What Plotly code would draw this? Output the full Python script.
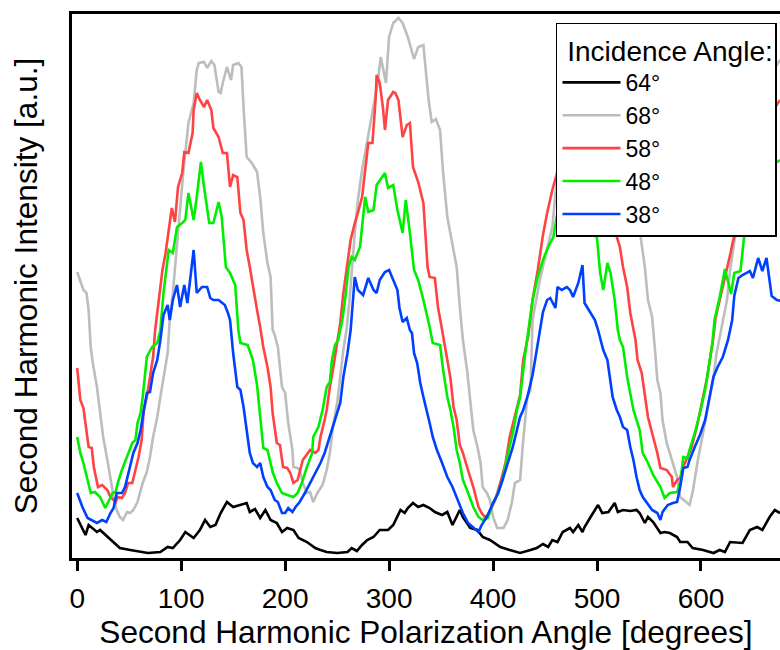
import plotly.graph_objects as go

# Angles [degrees] and intensities [a.u.], one pair per incidence angle
angle_64 = [0, 8, 11, 19, 22, 29, 35, 41, 51, 61, 68, 80, 87, 92, 99, 104, 112, 118, 123, 128, 133, 138,
            144, 150, 157, 163, 166, 171, 176, 181, 186, 192, 197, 202, 208, 213, 221, 229, 234, 240, 250,
            260, 264, 269, 274, 279, 285, 291, 299, 304, 311, 315, 318, 323, 328, 333, 339, 344, 351, 356,
            361, 365, 368, 371, 378, 385, 390, 397, 407, 416, 423, 426, 436, 442, 448, 453, 457, 462, 467,
            474, 477, 482, 486, 488, 495, 501, 505, 511, 517, 520, 525, 532, 538, 541, 546, 549, 554, 561,
            565, 570, 577, 580, 587, 592, 602, 612, 618, 623, 628, 635, 640, 647, 654, 659, 666, 671, 676]
int_64 = [40, 23, 33, 26, 28, 21, 15, 10, 8, 6, 5, 6, 11, 10, 18, 26, 20, 28, 38, 31, 33, 45,
          56, 51, 53, 55, 46, 49, 40, 48, 38, 35, 26, 30, 28, 20, 16, 10, 8, 6, 5,
          6, 10, 7, 13, 18, 21, 28, 28, 33, 48, 45, 50, 55, 51, 53, 50, 46, 43, 46,
          33, 41, 48, 41, 30, 28, 21, 18, 11, 8, 6, 5, 8, 10, 14, 11, 18, 16, 26,
          30, 26, 33, 26, 31, 43, 53, 45, 46, 55, 46, 48, 47, 48, 45, 35, 41, 36, 25,
          26, 25, 21, 16, 16, 10, 8, 5, 8, 6, 16, 15, 15, 28, 31, 28, 41, 48, 45]

angle_68 = [0, 3, 6, 9, 11, 13, 15, 19, 22, 25, 29, 32, 35, 38, 41, 44, 48, 51, 54, 58, 61, 63, 67, 70,
            73, 77, 80, 83, 87, 89, 92, 97, 102, 107, 112, 115, 117, 122, 125, 129, 132, 136, 138, 140,
            144, 148, 150, 155, 158, 160, 163, 168, 173, 176, 179, 183, 186, 188, 190, 193, 197, 200,
            203, 207, 208, 212, 214, 217, 221, 224, 227, 231, 236, 240, 243, 246, 250, 253, 256, 259,
            262, 267, 270, 274, 279, 284, 289, 292, 297, 300, 304, 309, 313, 318, 324, 328, 333, 335,
            338, 341, 345, 349, 352, 356, 361, 365, 368, 371, 375, 378, 381, 385, 388, 390, 394, 397,
            400, 404, 410, 414, 418, 421, 426, 429, 433, 436, 438, 445, 452, 457, 464, 474, 488, 503,
            517, 530, 541, 546, 549, 553, 556, 558, 561, 563, 567, 572, 577, 580, 587, 589, 592, 597,
            602, 607, 612, 615, 618, 621, 625, 628, 633, 642, 657, 676]
int_68 = [286, 276, 268, 265, 248, 211, 195, 171, 145, 121, 98, 78, 61, 48, 41, 38, 46, 45, 48, 56, 68,
          75, 86, 101, 121, 141, 161, 181, 205, 238, 265, 325, 385, 435, 455, 488, 495, 496, 490, 497,
          493, 466, 465, 475, 491, 478, 493, 495, 491, 451, 401, 395, 386, 361, 325, 295, 281, 228,
          223, 211, 171, 165, 135, 108, 91, 90, 88, 75, 65, 66, 56, 65, 73, 88, 105, 131, 155, 181,
          208, 228, 258, 325, 358, 388, 418, 448, 475, 501, 475, 521, 535, 540, 535, 521, 499, 511,
          513, 491, 458, 436, 439, 428, 385, 341, 315, 291, 251, 218, 188, 155, 128, 111, 95, 71,
          65, 58, 41, 30, 30, 38, 55, 75, 78, 118, 161, 168, 238, 278, 308, 331, 408, 468, 498, 503,
          488, 408, 328, 291, 258, 241, 205, 178, 165, 138, 115, 98, 81, 61, 55, 53, 66, 98,
          125, 155, 181, 205, 221, 238, 258, 288, 323, 408, 468, 498]

angle_58 = [0, 3, 6, 9, 11, 14, 16, 20, 24, 29, 32, 37, 39, 43, 46, 49, 53, 56, 59, 62, 64, 67, 70, 73,
            75, 78, 82, 85, 88, 91, 94, 97, 101, 103, 107, 111, 112, 115, 118, 122, 125, 129, 131, 136,
            140, 144, 147, 150, 154, 157, 160, 163, 166, 169, 173, 176, 179, 183, 186, 188, 192, 195,
            198, 202, 205, 208, 212, 214, 217, 224, 229, 232, 234, 238, 240, 243, 246, 250, 253, 256,
            260, 263, 267, 270, 274, 277, 280, 284, 287, 288, 291, 294, 296, 299, 304, 306, 309, 313,
            317, 320, 323, 328, 333, 337, 339, 344, 347, 351, 354, 359, 362, 365, 368, 371, 375, 378,
            381, 386, 389, 392, 395, 399, 402, 407, 412, 416, 421, 426, 429, 434, 438, 443, 448, 452,
            457, 461, 469, 479, 488, 498, 508, 514, 517, 522, 525, 529, 532, 537, 539, 543, 546, 549,
            554, 558, 561, 567, 572, 573, 577, 580, 583, 587, 591, 596, 601, 606, 609, 612, 614, 618,
            623, 628, 631, 634, 642, 657, 676]
int_58 = [190, 158, 150, 128, 111, 110, 91, 71, 73, 68, 61, 56, 61, 60, 65, 75, 75, 88, 101, 118, 148,
          161, 181, 201, 228, 256, 288, 305, 328, 350, 336, 371, 385, 406, 405, 425, 448, 465, 458,
          451, 458, 448, 430, 421, 405, 405, 371, 383, 381, 345, 338, 308, 291, 271, 248, 231, 211,
          191, 171, 145, 115, 113, 91, 90, 85, 75, 78, 86, 98, 108, 105, 108, 121, 138, 148, 171,
          188, 215, 235, 265, 295, 318, 335, 345, 361, 388, 415, 415, 458, 483, 475, 451, 428, 458,
          466, 465, 458, 421, 433, 435, 391, 376, 355, 291, 281, 280, 251, 228, 211, 180, 151, 138,
          113, 105, 91, 81, 71, 51, 45, 41, 43, 51, 58, 75, 95, 121, 141, 163, 198, 223, 258, 288,
          323, 345, 368, 383, 418, 448, 468, 463, 418, 358, 328, 311, 291, 271, 245, 218, 198, 185,
          161, 141, 121, 105, 90, 88, 81, 71, 78, 80, 91, 101, 111, 131, 155, 181, 201, 221, 240,
          258, 278, 303, 318, 328, 378, 428, 458]

angle_48 = [0, 3, 6, 10, 13, 17, 22, 27, 30, 34, 37, 39, 43, 48, 53, 56, 58, 61, 63, 67, 72, 77, 80, 83,
            88, 92, 96, 101, 104, 107, 112, 115, 119, 122, 127, 131, 136, 139, 143, 147, 152, 155, 157,
            164, 169, 173, 176, 179, 183, 188, 192, 197, 202, 208, 212, 216, 221, 226, 227, 232, 236,
            240, 243, 245, 248, 251, 255, 258, 261, 264, 267, 272, 277, 280, 285, 288, 296, 299, 304,
            308, 313, 316, 320, 324, 328, 333, 339, 342, 349, 352, 356, 359, 362, 365, 368, 371, 376,
            381, 386, 390, 395, 400, 404, 409, 413, 419, 423, 426, 431, 436, 438, 443, 448, 453, 458,
            464, 474, 484, 491, 495, 500, 503, 506, 510, 513, 517, 520, 522, 525, 529, 532, 535, 538,
            541, 544, 549, 554, 561, 565, 570, 577, 580, 583, 587, 589, 594, 599, 604, 607, 611, 613,
            618, 623, 629, 632, 638, 641, 647, 662, 676]
int_48 = [121, 105, 95, 78, 65, 66, 61, 50, 56, 65, 66, 75, 88, 101, 115, 118, 135, 145, 161, 201, 211,
          215, 228, 265, 308, 305, 331, 335, 338, 365, 338, 361, 396, 371, 335, 335, 356, 341, 291,
          285, 273, 228, 215, 213, 198, 173, 141, 110, 108, 86, 75, 65, 63, 61, 65, 75, 91, 105, 121,
          131, 148, 171, 176, 198, 213, 218, 238, 261, 291, 301, 298, 311, 361, 346, 348, 373, 385,
          370, 373, 348, 325, 358, 325, 288, 278, 258, 231, 215, 213, 188, 161, 148, 131, 108, 95,
          78, 65, 51, 41, 38, 40, 55, 63, 78, 98, 125, 148, 161, 205, 241, 258, 281, 298, 311, 321,
          358, 398, 408, 368, 328, 320, 285, 268, 295, 285, 258, 228, 218, 211, 181, 165, 148, 138,
          128, 105, 95, 83, 71, 60, 65, 66, 75, 101, 100, 108, 125, 145, 168, 188, 215, 238,
          261, 289, 264, 285, 287, 317, 358, 388, 398]

angle_38 = [0, 5, 10, 14, 19, 24, 28, 32, 35, 38, 43, 46, 51, 54, 58, 61, 63, 67, 70, 73, 77, 80, 83, 87,
            89, 92, 96, 99, 103, 106, 112, 115, 120, 125, 128, 131, 136, 139, 142, 145, 147, 150, 154,
            157, 160, 163, 166, 169, 173, 176, 179, 183, 186, 190, 193, 197, 200, 203, 207, 210, 214,
            219, 224, 229, 234, 238, 243, 248, 253, 256, 260, 263, 265, 267, 270, 275, 280, 285, 288,
            291, 296, 300, 304, 308, 310, 313, 317, 320, 322, 324, 327, 330, 333, 337, 339, 342, 346,
            351, 356, 361, 365, 371, 376, 381, 386, 389, 394, 400, 405, 410, 414, 419, 426, 429, 433,
            436, 438, 442, 445, 448, 452, 455, 460, 462, 466, 471, 474, 477, 482, 486, 488, 493, 498,
            501, 503, 506, 510, 513, 515, 519, 522, 525, 529, 532, 535, 538, 541, 544, 548, 553, 558,
            561, 563, 568, 573, 577, 580, 583, 587, 589, 594, 599, 604, 609, 612, 616, 621, 626, 630,
            632, 636, 640, 647, 650, 655, 659, 663, 668, 673, 678]
int_38 = [65, 51, 40, 38, 35, 38, 36, 45, 50, 65, 65, 71, 91, 105, 115, 128, 141, 165, 166, 185, 198,
          218, 243, 253, 238, 258, 273, 251, 273, 255, 308, 265, 271, 271, 260, 258, 258, 255, 253,
          245, 238, 205, 171, 168, 151, 128, 105, 95, 91, 95, 81, 71, 68, 58, 56, 45, 45, 50, 46,
          51, 56, 65, 75, 85, 95, 105, 121, 138, 155, 181, 205, 228, 251, 281, 268, 263, 280, 268,
          265, 278, 286, 288, 278, 268, 250, 236, 240, 228, 225, 205, 195, 175, 161, 145, 135, 121,
          108, 95, 81, 71, 61, 45, 35, 30, 26, 33, 41, 55, 65, 81, 95, 111, 141, 148, 161, 176,
          183, 208, 228, 246, 258, 260, 250, 271, 268, 271, 268, 261, 275, 293, 255, 246, 238, 228,
          221, 208, 198, 175, 161, 148, 141, 131, 128, 111, 98, 81, 68, 61, 55, 48, 45, 38, 46, 53,
          55, 56, 71, 90, 91, 98, 111, 123, 138, 165, 181, 191, 201, 218, 238, 262, 280, 283, 287,
          280, 300, 287, 300, 262, 258, 257]

series = [
    ("64°", angle_64, int_64, "#000000"),
    ("68°", angle_68, int_68, "#bdbdbd"),
    ("58°", angle_58, int_58, "#ff4242"),
    ("48°", angle_48, int_48, "#00ee00"),
    ("38°", angle_38, int_38, "#0040ff"),
]

x_ticks = [0, 100, 200, 300, 400, 500, 600]

fig = go.Figure()
for name, xs, ys, color in series:
    fig.add_trace(go.Scatter(x=xs, y=ys, mode="lines", name=name,
                             line=dict(color=color, width=2.6)))

font_family = "Liberation Sans, Arial, sans-serif"
fig.update_layout(
    width=780, height=650,
    margin=dict(l=72, r=0, t=14, b=92),
    paper_bgcolor="white", plot_bgcolor="white",
    font=dict(family=font_family, color="black"),
    showlegend=True,
    legend=dict(
        x=0.6836, y=0.9835, xanchor="left", yanchor="top",
        bgcolor="white", bordercolor="black", borderwidth=1.5,
        font=dict(size=23, family=font_family, color="black"),
        title=dict(text="\u00a0Incidence Angle:",
                   font=dict(size=28, family=font_family, color="black")),
        itemwidth=58, tracegroupgap=0,
    ),
    xaxis=dict(
        range=[-5, 676], tickvals=x_ticks, ticktext=[str(t) for t in x_ticks],
        showline=True, linecolor="black", linewidth=3, mirror=True,
        ticks="outside", ticklen=10, tickwidth=3, tickcolor="black",
        ticklabelstandoff=3,
        showgrid=False, zeroline=False,
        tickfont=dict(size=28, family=font_family, color="black"),
        title=dict(text="Second Harmonic Polarization Angle [degrees]",
                   font=dict(size=31.6, family=font_family, color="black"), standoff=5),
    ),
    yaxis=dict(
        range=[0, 544], showline=True, linecolor="black", linewidth=3,
        ticks="", showticklabels=False, showgrid=False, zeroline=False,
        title=dict(text="Second Harmonic Intensity [a.u.]",
                   font=dict(size=31.6, family=font_family, color="black"), standoff=22),
    ),
)

fig.write_html("out.html")
